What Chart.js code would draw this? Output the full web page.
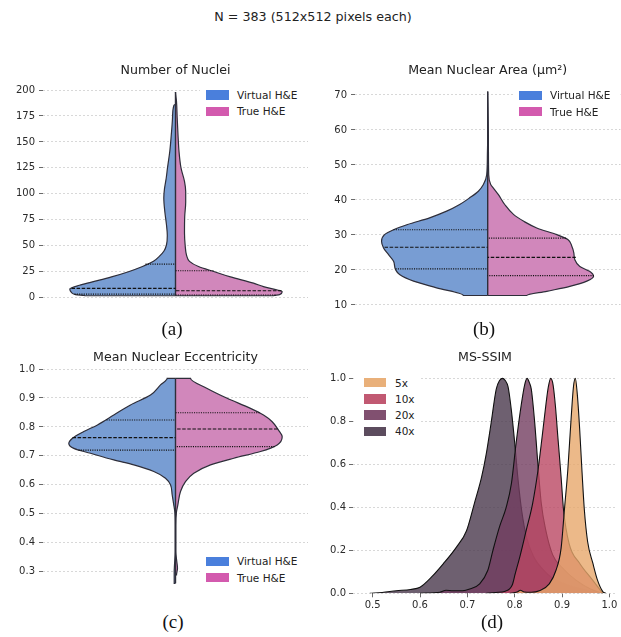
<!DOCTYPE html>
<html>
<head>
<meta charset="utf-8">
<title>Nuclei statistics and MS-SSIM</title>
<script src="https://cdn.jsdelivr.net/npm/chart.js@4.4.1/dist/chart.umd.min.js"></script>
<style>
  body { margin: 0; background: #fff; }
  #page { position: relative; width: 621px; height: 637px; overflow: hidden; font-family: 'DejaVu Sans', sans-serif; color: #222; }
  canvas { position: absolute; }
  .txt { position: absolute; white-space: nowrap; transform: translate(-50%, -50%); }
  .suptitle { font-size: 12.7px; }
  .panel-label { font-family: 'Liberation Serif', 'Times New Roman', serif; font-size: 19px; color: #111; }
  .legend { position: absolute; background: #fff; font-size: 10.5px; color: #222; }
  .legend-row { position: absolute; display: flex; align-items: center; height: 16px; transform: translateY(-50%); white-space: nowrap; }
  .swatch { display: inline-block; height: 9.5px; }
</style>
</head>
<body>
<div id="page">
  <canvas id="chartA" width="310" height="270" style="left:0;top:50px"></canvas>
  <canvas id="chartB" width="311" height="270" style="left:310px;top:50px"></canvas>
  <canvas id="chartC" width="310" height="270" style="left:0;top:340px"></canvas>
  <canvas id="chartD" width="311" height="280" style="left:310px;top:340px"></canvas>

  <div class="txt suptitle" style="left:313px;top:16px">N = 383 (512x512 pixels each)</div>
  <div class="txt panel-label" style="left:172px;top:329px">(a)</div>
  <div class="txt panel-label" style="left:484px;top:329px">(b)</div>
  <div class="txt panel-label" style="left:173px;top:622px">(c)</div>
  <div class="txt panel-label" style="left:492px;top:622px">(d)</div>
</div>

<script>
// ---------- data ----------
// half-widths are the violin densities (same arbitrary unit on every violin)

// (a) Number of Nuclei
const nucleiTicks = [0, 25, 50, 75, 100, 125, 150, 175, 200];
const nucleiVirtualY = [1.9, 3, 5, 8.3, 12, 15, 20, 25, 30, 35, 40, 45, 51, 60, 70, 83, 96, 105, 115, 125, 141, 157, 173, 185, 186.5];
const nucleiVirtualW = [90, 100, 104, 105.7, 96, 84, 64, 47, 33, 22, 16, 11.5, 9, 8.2, 9, 10.7, 11.7, 11, 9.3, 8, 5.7, 4.2, 3, 1.7, 0];
const nucleiTrueY = [1.9, 3, 5.8, 7.4, 10.6, 14, 20, 25, 30, 35, 41, 50, 62, 78, 92, 102, 112, 125, 141, 157, 173, 189, 198];
const nucleiTrueW = [98, 104, 106.7, 102, 88, 78, 55, 39, 23, 14, 11, 9.7, 9, 9.2, 10.2, 10.2, 9, 5.5, 3.5, 2.5, 1.7, 1, 0];
const nucleiVirtualQ = [3.5, 9, 32.4];
const nucleiVirtualQW = [101, 104, 30];
const nucleiTrueQ = [2.6, 6.7, 26];
const nucleiTrueQW = [100, 106, 38];

// (b) Mean Nuclear Area
const areaTicks = [10, 20, 30, 40, 50, 60, 70];
const areaVirtualY = [12.7, 14.9, 16.8, 18.7, 20.1, 22.5, 24.4, 26.3, 28.2, 30.1, 31.5, 33, 34.9, 36.8, 38.7, 40.6, 42.5, 44.4, 47.2, 53, 57.7];
const areaVirtualW = [24.3, 51, 74, 88, 92, 94, 99, 104, 106, 103, 94, 80, 58, 41, 28, 18, 9.3, 4.3, 1, 0.3, 0];
const areaTrueY = [12.7, 13.9, 15.3, 16.8, 18.2, 19.6, 21, 22.9, 24.9, 26.8, 28.7, 30.1, 32, 33.9, 35.8, 38.7, 41.5, 43.4, 44.4, 47.2, 57.7, 67, 71];
const areaTrueW = [39, 59, 82, 99, 105.7, 101.7, 92, 87, 86, 84, 80, 69, 49, 36, 26, 17, 10.7, 5.7, 3, 1, 0.7, 0.3, 0];
const areaVirtualQ = [20.3, 26.5, 31.5];
const areaVirtualQW = [92, 103, 94];
const areaTrueQ = [18.4, 23.6, 29.1];
const areaTrueQW = [106, 88, 78];

// (c) Mean Nuclear Eccentricity
const eccTicks = [0.3, 0.4, 0.5, 0.6, 0.7, 0.8, 0.9, 1.0];
const eccVirtualY = [0.26, 0.277, 0.3, 0.323, 0.37, 0.46, 0.507, 0.53, 0.565, 0.6, 0.623, 0.646, 0.669, 0.686, 0.709, 0.726, 0.743, 0.761, 0.784, 0.807, 0.841, 0.876, 0.91, 0.945, 0.968];
const eccVirtualW = [1.3, 1.3, 1.3, 1, 0.3, 0.3, 0.7, 1.7, 3.3, 5, 10, 21.7, 41.7, 61.7, 85, 101.7, 106.7, 103, 91.7, 78, 61.7, 45, 25, 15, 8.3];
const eccTrueY = [0.289, 0.312, 0.335, 0.37, 0.46, 0.507, 0.53, 0.577, 0.611, 0.64, 0.669, 0.692, 0.715, 0.738, 0.766, 0.789, 0.818, 0.841, 0.864, 0.899, 0.933, 0.968];
const eccTrueW = [1, 2, 1.3, 0.3, 0.3, 1, 2.3, 5, 10, 18.3, 35, 58.3, 85, 101.7, 106.7, 103, 96.7, 88, 75, 51.7, 31.7, 15];
const eccVirtualQ = [0.72, 0.763, 0.824];
const eccVirtualQW = [97, 103, 69];
const eccTrueQ = [0.732, 0.793, 0.849];
const eccTrueQW = [99, 102, 84];

// (d) MS-SSIM, densities scaled to a peak of 1
const ssimTicksX = [0.5, 0.6, 0.7, 0.8, 0.9, 1.0];
const ssimTicksY = [0.0, 0.2, 0.4, 0.6, 0.8, 1.0];
const ssimLabels = ['5x', '10x', '20x', '40x'];
const ssim5xX = [0.79, 0.805, 0.812, 0.82, 0.835, 0.852, 0.873, 0.887, 0.898, 0.905, 0.912, 0.919, 0.924, 0.928, 0.932, 0.937, 0.942, 0.947, 0.954, 0.965, 0.975, 0.986, 0.992];
const ssim5xY = [0, 0.006, 0.014, 0.006, 0.005, 0.012, 0.044, 0.106, 0.21, 0.39, 0.57, 0.81, 0.96, 1.0, 0.93, 0.77, 0.57, 0.39, 0.24, 0.14, 0.06, 0.008, 0];
const ssim10xX = [0.74, 0.76, 0.78, 0.795, 0.801, 0.812, 0.824, 0.838, 0.849, 0.858, 0.866, 0.871, 0.876, 0.881, 0.886, 0.891, 0.898, 0.903, 0.915, 0.937, 0.965, 0.986];
const ssim10xY = [0, 0.004, 0.01, 0.04, 0.09, 0.18, 0.29, 0.42, 0.57, 0.73, 0.88, 0.96, 1.0, 0.97, 0.87, 0.73, 0.54, 0.39, 0.23, 0.14, 0.06, 0];
const ssim20xX = [0.6, 0.642, 0.655, 0.67, 0.69, 0.705, 0.726, 0.743, 0.754, 0.768, 0.782, 0.793, 0.803, 0.814, 0.821, 0.826, 0.831, 0.835, 0.842, 0.849, 0.856, 0.865, 0.88, 0.9, 0.93, 0.96, 0.985];
const ssim20xY = [0, 0.005, 0.014, 0.012, 0.012, 0.02, 0.044, 0.106, 0.2, 0.31, 0.4, 0.51, 0.7, 0.88, 0.97, 1.0, 0.98, 0.95, 0.8, 0.6, 0.42, 0.3, 0.18, 0.12, 0.06, 0.02, 0];
const ssim40xX = [0.494, 0.52, 0.55, 0.58, 0.6, 0.624, 0.649, 0.677, 0.698, 0.715, 0.73, 0.74, 0.75, 0.761, 0.768, 0.774, 0.78, 0.786, 0.793, 0.8, 0.807, 0.815, 0.825, 0.84, 0.86, 0.88, 0.91, 0.94, 0.97, 0.98];
const ssim40xY = [0, 0.004, 0.012, 0.018, 0.028, 0.075, 0.137, 0.215, 0.29, 0.42, 0.54, 0.65, 0.79, 0.95, 0.99, 1.0, 0.99, 0.96, 0.85, 0.7, 0.53, 0.38, 0.26, 0.17, 0.11, 0.07, 0.04, 0.02, 0.005, 0];

const groupLabels = ['Virtual H&E', 'True H&E'];

// ---------- styles ----------
const VIOLIN_FILL = ['#789dd3', '#d187bb'];
const VIOLIN_PATCH = ['#4a7fdc', '#d35aae'];
const EDGE = '#2e2e3a';
const SSIM_FILL = ['rgba(231,167,108,0.8)', 'rgba(186,71,99,0.8)', 'rgba(115,61,96,0.8)', 'rgba(74,56,76,0.8)'];
const SSIM_PATCH = ['rgba(231,167,108,0.9)', 'rgba(186,71,99,0.9)', 'rgba(115,61,96,0.9)', 'rgba(74,56,76,0.9)'];

Chart.defaults.font.family = "'DejaVu Sans', sans-serif";
Chart.defaults.color = '#2a2a2a';

function halfViolin(ys, ws, side, color) {
    const pts = ys.map((y, i) => ({ x: side * ws[i], y: y }));
    pts.unshift({ x: 0, y: ys[0] });
    pts.push({ x: 0, y: ys[ys.length - 1] });
    return {
        data: pts,
        backgroundColor: color,
        borderColor: EDGE,
        borderWidth: 1.2,
        fill: { value: 0 },
        pointRadius: 0,
        cubicInterpolationMode: 'monotone',
        order: 2
    };
}

function quartileLines(qs, qws, side) {
    // lower quartile and upper quartile dotted, median dashed
    return qs.map((q, i) => ({
        data: [{ x: side * qws[i], y: q }, { x: 0, y: q }],
        borderColor: '#111',
        borderWidth: 1.15,
        borderDash: i === 1 ? [3.5, 1.6] : [1.1, 1.2],
        fill: false,
        pointRadius: 0,
        order: 0
    }));
}

function centerLine(ysA, ysB) {
    const lo = Math.min(ysA[0], ysB[0]);
    const hi = Math.max(ysA[ysA.length - 1], ysB[ysB.length - 1]);
    return {
        data: [{ x: 0, y: lo }, { x: 0, y: hi }],
        borderColor: EDGE,
        borderWidth: 1.4,
        fill: false,
        pointRadius: 0,
        order: 0
    };
}

function yAxis(min, max, ticks, fmt, width, pad) {
    return {
        type: 'linear',
        position: 'left',
        min: min,
        max: max,
        afterBuildTicks: (s) => { s.ticks = ticks.map(v => ({ value: v })); },
        afterFit: (s) => { s.width = width; },
        ticks: { callback: fmt, font: { size: 10 }, color: '#2a2a2a', padding: pad },
        grid: { color: '#cfcfcf', lineWidth: 0.8, tickLength: 4, tickColor: '#444', tickWidth: 0.8, tickBorderDash: [] },
        border: { display: false, dash: [2, 2] }
    };
}

function titleOpts(text, top, bottom) {
    return {
        display: true,
        text: text,
        fullSize: false,
        color: '#222',
        font: { size: 12.6, weight: 'normal' },
        padding: { top: top, bottom: bottom }
    };
}

function violinChart(id, cfg) {
    const datasets = [
        halfViolin(cfg.vY, cfg.vW, -1, VIOLIN_FILL[0]),
        halfViolin(cfg.tY, cfg.tW, 1, VIOLIN_FILL[1]),
        ...quartileLines(cfg.vQ, cfg.vQW, -1),
        ...quartileLines(cfg.tQ, cfg.tQW, 1),
        centerLine(cfg.vY, cfg.tY)
    ];
    return new Chart(document.getElementById(id), {
        type: 'line',
        data: { datasets: datasets },
        options: {
            indexAxis: 'y',
            responsive: false,
            animation: false,
            events: [],
            layout: { padding: cfg.pad },
            scales: {
                x: { type: 'linear', display: false, min: -132.5, max: 132.5 },
                y: yAxis(cfg.yMin, cfg.yMax, cfg.ticks, cfg.fmt, cfg.axisW, 4)
            },
            plugins: {
                legend: { display: false },
                tooltip: { enabled: false },
                title: titleOpts(cfg.title, cfg.titlePad[0], cfg.titlePad[1])
            }
        }
    });
}

function makeLegend(box, names, colors, rows, swatchW, gap) {
    const div = document.createElement('div');
    div.className = 'legend';
    div.style.cssText = `left:${box[0]}px;top:${box[1]}px;width:${box[2]}px;height:${box[3]}px`;
    names.forEach((name, i) => {
        const row = document.createElement('div');
        row.className = 'legend-row';
        row.style.left = rows[0] + 'px';
        row.style.top = (rows[1] + i * rows[2]) + 'px';
        const sw = document.createElement('span');
        sw.className = 'swatch';
        sw.style.width = swatchW + 'px';
        sw.style.marginRight = gap + 'px';
        sw.style.background = colors[i];
        const tx = document.createElement('span');
        tx.textContent = name;
        row.appendChild(sw);
        row.appendChild(tx);
        div.appendChild(row);
    });
    document.getElementById('page').appendChild(div);
}

// ---------- charts ----------
violinChart('chartA', {
    title: 'Number of Nuclei', titlePad: [12.9, 3.9],
    vY: nucleiVirtualY, vW: nucleiVirtualW, tY: nucleiTrueY, tW: nucleiTrueW,
    vQ: nucleiVirtualQ, vQW: nucleiVirtualQW, tQ: nucleiTrueQ, tQW: nucleiTrueQW,
    yMin: -7.8, yMax: 207.8, ticks: nucleiTicks, fmt: v => String(v),
    axisW: 43, pad: { left: 0, right: 2, top: 0, bottom: 14.2 }
});

violinChart('chartB', {
    title: 'Mean Nuclear Area (\u00b5m\u00b2)', titlePad: [13.4, 2.8],
    vY: areaVirtualY, vW: areaVirtualW, tY: areaTrueY, tW: areaTrueW,
    vQ: areaVirtualQ, vQW: areaVirtualQW, tQ: areaTrueQ, tQW: areaTrueQW,
    yMin: 9.7, yMax: 73.9, ticks: areaTicks, fmt: v => String(v),
    axisW: 45, pad: { left: 0, right: 0.6, top: 0, bottom: 14 }
});

violinChart('chartC', {
    title: 'Mean Nuclear Eccentricity', titlePad: [9.9, 2.4],
    vY: eccVirtualY, vW: eccVirtualW, tY: eccTrueY, tW: eccTrueW,
    vQ: eccVirtualQ, vQW: eccVirtualQW, tQ: eccTrueQ, tQW: eccTrueQW,
    yMin: 0.2245, yMax: 1.0055, ticks: eccTicks, fmt: v => v.toFixed(1),
    axisW: 43, pad: { left: 0, right: 2, top: 0, bottom: 16.4 }
});

const ssimSeries = [[ssim5xX, ssim5xY], [ssim10xX, ssim10xY], [ssim20xX, ssim20xY], [ssim40xX, ssim40xY]];

new Chart(document.getElementById('chartD'), {
    type: 'line',
    data: {
        // first dataset is drawn on top, so 5x ends up in front of 40x
        datasets: ssimSeries.map(([xs, ys], i) => ({
            label: ssimLabels[i],
            data: xs.map((x, j) => ({ x: x, y: ys[j] })),
            backgroundColor: SSIM_FILL[i],
            borderColor: '#111',
            borderWidth: 1.1,
            fill: 'origin',
            pointRadius: 0,
            cubicInterpolationMode: 'monotone'
        }))
    },
    options: {
        responsive: false,
        animation: false,
        events: [],
        layout: { padding: { left: 0, right: 4, top: 0, bottom: 0 } },
        scales: {
            x: {
                type: 'linear',
                min: 0.4585,
                max: 1.016,
                afterBuildTicks: (s) => { s.ticks = ssimTicksX.map(v => ({ value: v })); },
                afterFit: (s) => { s.height = 26.7; },
                ticks: { callback: v => v.toFixed(1), font: { size: 10 }, color: '#2a2a2a', padding: 2, maxRotation: 0 },
                grid: { drawOnChartArea: false, drawTicks: true, tickLength: 4, tickColor: '#444', tickWidth: 0.8 },
                border: { display: false }
            },
            y: yAxis(0, 1.05, ssimTicksY, v => v.toFixed(1), 43, 3)
        },
        plugins: {
            legend: { display: false },
            tooltip: { enabled: false },
            title: titleOpts('MS-SSIM', 10.4, 2.1)
        }
    }
});

// ---------- legends ----------
makeLegend([200, 84, 108, 37], groupLabels, VIOLIN_PATCH, [6, 11.2, 16.2], 23, 8);
makeLegend([513, 85, 107, 37], groupLabels, VIOLIN_PATCH, [6, 10.3, 16.4], 23, 8);
makeLegend([200, 551, 108, 37], groupLabels, VIOLIN_PATCH, [6, 10.3, 16.2], 23, 8);
makeLegend([354, 372, 66, 68], ssimLabels, SSIM_PATCH, [10, 10.5, 16.3], 22, 9);
</script>
</body>
</html>
